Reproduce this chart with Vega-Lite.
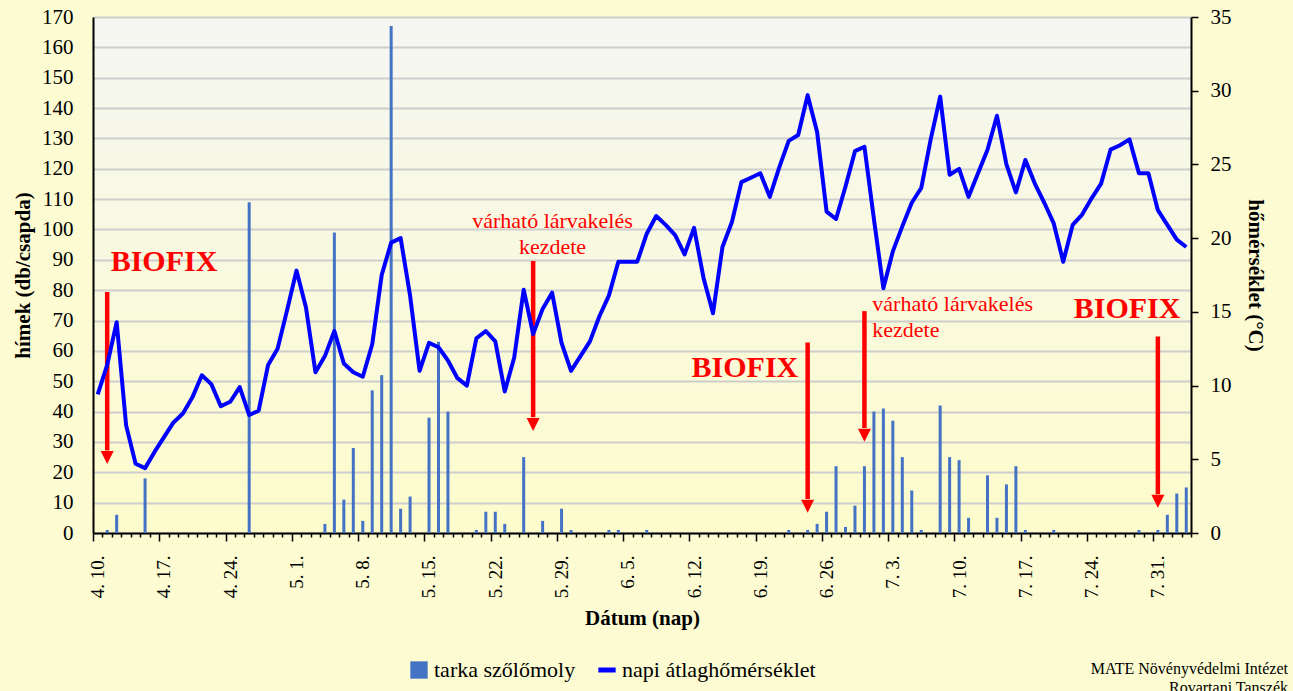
{
  "$schema": "https://vega.github.io/schema/vega-lite/v6.json",
  "width": 1098,
  "height": 516,
  "autosize": {"type": "none"},
  "padding": {"left": 93, "top": 17, "right": 102, "bottom": 158},
  "background": "#fcfbd2",
  "config": {
    "font": "Liberation Serif",
    "view": {"stroke": null, "fill": {"gradient": "linear", "x1": 0, "y1": 0, "x2": 0, "y2": 1, "stops": [{"offset": 0, "color": "#f5f6f2"}, {"offset": 1, "color": "#fdfccc"}]}}
  },
  "title": {
    "text": ["MATE Növényvédelmi Intézet", "Rovartani Tanszék"],
    "orient": "bottom", "anchor": "end", "frame": "group",
    "font": "Liberation Serif", "fontSize": 16, "fontWeight": "normal", "color": "black",
    "lineHeight": 19, "dx": 97, "offset": -20
  },
  "data": {"values": [
    {"d":"2023-04-10","n":0,"t":9.4},{"d":"2023-04-11","n":1,"t":11.4},{"d":"2023-04-12","n":6,"t":14.3},{"d":"2023-04-13","n":0,"t":7.3},
    {"d":"2023-04-14","n":0,"t":4.7},{"d":"2023-04-15","n":18,"t":4.4},{"d":"2023-04-16","n":0,"t":5.5},{"d":"2023-04-17","n":0,"t":6.5},
    {"d":"2023-04-18","n":0,"t":7.5},{"d":"2023-04-19","n":0,"t":8.1},{"d":"2023-04-20","n":0,"t":9.2},{"d":"2023-04-21","n":0,"t":10.7},
    {"d":"2023-04-22","n":0,"t":10.1},{"d":"2023-04-23","n":0,"t":8.6},{"d":"2023-04-24","n":0,"t":8.9},{"d":"2023-04-25","n":0,"t":9.9},
    {"d":"2023-04-26","n":109,"t":8.0},{"d":"2023-04-27","n":0,"t":8.3},{"d":"2023-04-28","n":0,"t":11.4},{"d":"2023-04-29","n":0,"t":12.5},
    {"d":"2023-04-30","n":0,"t":15.1},{"d":"2023-05-01","n":0,"t":17.8},{"d":"2023-05-02","n":0,"t":15.3},{"d":"2023-05-03","n":0,"t":10.9},
    {"d":"2023-05-04","n":3,"t":12.0},{"d":"2023-05-05","n":99,"t":13.7},{"d":"2023-05-06","n":11,"t":11.5},{"d":"2023-05-07","n":28,"t":10.9},
    {"d":"2023-05-08","n":4,"t":10.6},{"d":"2023-05-09","n":47,"t":12.8},{"d":"2023-05-10","n":52,"t":17.5},{"d":"2023-05-11","n":167,"t":19.7},
    {"d":"2023-05-12","n":8,"t":20.0},{"d":"2023-05-13","n":12,"t":16.1},{"d":"2023-05-14","n":0,"t":11.0},{"d":"2023-05-15","n":38,"t":12.9},
    {"d":"2023-05-16","n":63,"t":12.6},{"d":"2023-05-17","n":40,"t":11.7},{"d":"2023-05-18","n":0,"t":10.5},{"d":"2023-05-19","n":0,"t":10.0},
    {"d":"2023-05-20","n":1,"t":13.2},{"d":"2023-05-21","n":7,"t":13.7},{"d":"2023-05-22","n":7,"t":13.0},{"d":"2023-05-23","n":3,"t":9.6},
    {"d":"2023-05-24","n":0,"t":11.9},{"d":"2023-05-25","n":25,"t":16.5},{"d":"2023-05-26","n":0,"t":13.5},{"d":"2023-05-27","n":4,"t":15.2},
    {"d":"2023-05-28","n":0,"t":16.3},{"d":"2023-05-29","n":8,"t":12.9},{"d":"2023-05-30","n":1,"t":11.0},{"d":"2023-05-31","n":0,"t":12.0},
    {"d":"2023-06-01","n":0,"t":13.0},{"d":"2023-06-02","n":0,"t":14.7},{"d":"2023-06-03","n":1,"t":16.1},{"d":"2023-06-04","n":1,"t":18.4},
    {"d":"2023-06-05","n":0,"t":18.4},{"d":"2023-06-06","n":0,"t":18.4},{"d":"2023-06-07","n":1,"t":20.3},{"d":"2023-06-08","n":0,"t":21.5},
    {"d":"2023-06-09","n":0,"t":20.9},{"d":"2023-06-10","n":0,"t":20.2},{"d":"2023-06-11","n":0,"t":18.9},{"d":"2023-06-12","n":0,"t":20.7},
    {"d":"2023-06-13","n":0,"t":17.3},{"d":"2023-06-14","n":0,"t":14.9},{"d":"2023-06-15","n":0,"t":19.4},{"d":"2023-06-16","n":0,"t":21.1},
    {"d":"2023-06-17","n":0,"t":23.8},{"d":"2023-06-18","n":0,"t":24.1},{"d":"2023-06-19","n":0,"t":24.4},{"d":"2023-06-20","n":0,"t":22.8},
    {"d":"2023-06-21","n":0,"t":24.8},{"d":"2023-06-22","n":1,"t":26.6},{"d":"2023-06-23","n":0,"t":27.0},{"d":"2023-06-24","n":1,"t":29.7},
    {"d":"2023-06-25","n":3,"t":27.2},{"d":"2023-06-26","n":7,"t":21.8},{"d":"2023-06-27","n":22,"t":21.3},{"d":"2023-06-28","n":2,"t":23.5},
    {"d":"2023-06-29","n":9,"t":25.9},{"d":"2023-06-30","n":22,"t":26.2},{"d":"2023-07-01","n":40,"t":21.3},{"d":"2023-07-02","n":41,"t":16.6},
    {"d":"2023-07-03","n":37,"t":19.1},{"d":"2023-07-04","n":25,"t":20.8},{"d":"2023-07-05","n":14,"t":22.4},{"d":"2023-07-06","n":1,"t":23.4},
    {"d":"2023-07-07","n":0,"t":26.7},{"d":"2023-07-08","n":42,"t":29.6},{"d":"2023-07-09","n":25,"t":24.3},{"d":"2023-07-10","n":24,"t":24.7},
    {"d":"2023-07-11","n":5,"t":22.8},{"d":"2023-07-12","n":0,"t":24.4},{"d":"2023-07-13","n":19,"t":26.0},{"d":"2023-07-14","n":5,"t":28.3},
    {"d":"2023-07-15","n":16,"t":25.0},{"d":"2023-07-16","n":22,"t":23.1},{"d":"2023-07-17","n":1,"t":25.3},{"d":"2023-07-18","n":0,"t":23.7},
    {"d":"2023-07-19","n":0,"t":22.4},{"d":"2023-07-20","n":1,"t":21.0},{"d":"2023-07-21","n":0,"t":18.4},{"d":"2023-07-22","n":0,"t":20.9},
    {"d":"2023-07-23","n":0,"t":21.6},{"d":"2023-07-24","n":0,"t":22.7},{"d":"2023-07-25","n":0,"t":23.7},{"d":"2023-07-26","n":0,"t":26.0},
    {"d":"2023-07-27","n":0,"t":26.3},{"d":"2023-07-28","n":0,"t":26.7},{"d":"2023-07-29","n":1,"t":24.4},{"d":"2023-07-30","n":0,"t":24.4},
    {"d":"2023-07-31","n":1,"t":21.9},{"d":"2023-08-01","n":6,"t":20.9},{"d":"2023-08-02","n":13,"t":19.9},{"d":"2023-08-03","n":15,"t":19.4}
  ]},
  "layer": [
    {
      "mark": {"type": "rule", "strokeWidth": 3},
      "encoding": {
        "x": {
          "field": "d", "type": "temporal", "timeUnit": "utcyearmonthdate", "bandPosition": 0.5, "title": "Dátum (nap)",
          "scale": {"type": "utc", "domain": [{"year": 2023, "month": 4, "date": 10, "utc": true}, {"year": 2023, "month": 8, "date": 4, "utc": true}], "nice": false},
          "axis": {
            "title": "Dátum (nap)",
            "tickCount": {"interval": "day", "step": 1},
            "labelExpr": "(datum.value - utc(2023,3,10)) % 604800000 === 0 ? utcFormat(datum.value, '%-m. %-d.') : ''",
            "labelAngle": 270, "labelOffset": 4.7, "labelOverlap": false, "labelFlush": false, "labelBound": false,
            "labelFont": "Liberation Serif", "labelFontSize": 19, "labelColor": "black", "labelPadding": 14,
            "tickSize": {"condition": {"test": "(datum.value - utc(2023,3,10)) % 604800000 === 0", "value": 8}, "value": 4},
            "tickColor": "black", "tickWidth": 1.5,
            "domainColor": "black", "domainWidth": 2, "grid": false,
            "titleFont": "Liberation Serif", "titleFontSize": 21, "titleFontWeight": "bold", "titleColor": "black", "titlePadding": 10
          }
        },
        "y": {
          "field": "n", "type": "quantitative", "title": "hímek (db/csapda)",
          "scale": {"domain": [0, 170], "nice": false},
          "axis": {
            "orient": "left",
            "title": "hímek (db/csapda)",
            "values": [0,10,20,30,40,50,60,70,80,90,100,110,120,130,140,150,160,170],
            "labelOverlap": false, "labelFlush": false, "labelBound": false,
            "grid": true, "gridColor": "#cdcdcd", "gridWidth": 2,
            "ticks": false, "labelPadding": 20,
            "labelFont": "Liberation Serif", "labelFontSize": 21, "labelColor": "black",
            "domainColor": "black", "domainWidth": 2,
            "titleFont": "Liberation Serif", "titleFontSize": 21, "titleFontWeight": "bold", "titleColor": "black", "titlePadding": 8
          }
        },
        "y2": {"datum": 0},
        "color": {
          "datum": "tarka szőlőmoly", "type": "nominal",
          "scale": {"domain": ["tarka szőlőmoly", "napi átlaghőmérséklet"], "range": ["#4472c4", "#0000ff"]},
          "legend": {
            "title": null, "orient": "none", "direction": "horizontal", "legendX": 315, "legendY": 642,
            "labelFont": "Liberation Serif", "labelFontSize": 22, "labelColor": "black", "labelLimit": 500,
            "symbolSize": 300, "columnPadding": 12, "symbolStrokeWidth": 5,
            "encode": {"symbols": {"update": {
              "shape": {"signal": "datum.value === 'tarka szőlőmoly' ? 'square' : 'stroke'"},
              "fill": {"signal": "datum.value === 'tarka szőlőmoly' ? '#4472c4' : 'transparent'"},
              "stroke": {"signal": "datum.value === 'tarka szőlőmoly' ? '#4472c4' : '#0000ff'"},
              "strokeWidth": {"signal": "datum.value === 'tarka szőlőmoly' ? 0 : 5"}
            }}}
          }
        }
      }
    },
    {
      "data": {"values": [
        {"d": "2023-04-11", "top": 79.4, "tip": 22.7, "end": 27.2},
        {"d": "2023-05-26", "top": 89.6, "tip": 33.6, "end": 38.1},
        {"d": "2023-06-24", "top": 62.8, "tip": 6.7, "end": 11.2},
        {"d": "2023-06-30", "top": 73.1, "tip": 30.1, "end": 34.6},
        {"d": "2023-07-31", "top": 64.7, "tip": 8.3, "end": 12.8}
      ]},
      "mark": {"type": "rule", "color": "#ff0000", "strokeWidth": 4.5},
      "encoding": {
        "x": {"field": "d", "type": "temporal", "timeUnit": "utcyearmonthdate", "bandPosition": 0.5, "title": "Dátum (nap)"},
        "y": {"field": "top", "type": "quantitative", "scale": {"domain": [0, 170], "nice": false}, "axis": null},
        "y2": {"field": "end"}
      }
    },
    {
      "data": {"values": [
        {"d": "2023-04-11", "tip": 22.7},
        {"d": "2023-05-26", "tip": 33.6},
        {"d": "2023-06-24", "tip": 6.7},
        {"d": "2023-06-30", "tip": 30.1},
        {"d": "2023-07-31", "tip": 8.3}
      ]},
      "mark": {"type": "point", "shape": "M-1,-2L1,-2L0,0Z", "size": 169, "filled": true, "color": "#ff0000", "opacity": 1, "strokeWidth": 0},
      "encoding": {
        "x": {"field": "d", "type": "temporal", "timeUnit": "utcyearmonthdate", "bandPosition": 0.5, "title": "Dátum (nap)"},
        "y": {"field": "tip", "type": "quantitative", "scale": {"domain": [0, 170], "nice": false}, "axis": null}
      }
    },
    {
      "data": {"values": [
        {"x": "2023-04-17T12:00:00Z", "y": 86.3, "label": "BIOFIX"},
        {"x": "2023-06-17T21:00:00Z", "y": 51.4, "label": "BIOFIX"},
        {"x": "2023-07-28T06:00:00Z", "y": 70.8, "label": "BIOFIX"}
      ]},
      "mark": {"type": "text", "font": "Liberation Serif", "fontSize": 30, "fontWeight": "bold", "color": "#ff0000", "align": "center", "baseline": "alphabetic"},
      "encoding": {
        "x": {"field": "x", "type": "temporal", "title": "Dátum (nap)"},
        "y": {"field": "y", "type": "quantitative", "scale": {"domain": [0, 170], "nice": false}, "axis": null},
        "text": {"field": "label"}
      }
    },
    {
      "data": {"values": [
        {"x": "2023-05-28T13:00:00Z", "y": 100.5, "label": "várható lárvakelés"},
        {"x": "2023-05-28T13:00:00Z", "y": 91.9, "label": "kezdete"}
      ]},
      "mark": {"type": "text", "font": "Liberation Serif", "fontSize": 22, "color": "#ff0000", "align": "center", "baseline": "alphabetic"},
      "encoding": {
        "x": {"field": "x", "type": "temporal", "title": "Dátum (nap)"},
        "y": {"field": "y", "type": "quantitative", "scale": {"domain": [0, 170], "nice": false}, "axis": null},
        "text": {"field": "label"}
      }
    },
    {
      "data": {"values": [
        {"x": "2023-07-01T08:00:00Z", "y": 73.1, "label": "várható lárvakelés"},
        {"x": "2023-07-01T08:00:00Z", "y": 64.6, "label": "kezdete"}
      ]},
      "mark": {"type": "text", "font": "Liberation Serif", "fontSize": 22, "color": "#ff0000", "align": "left", "baseline": "alphabetic"},
      "encoding": {
        "x": {"field": "x", "type": "temporal", "title": "Dátum (nap)"},
        "y": {"field": "y", "type": "quantitative", "scale": {"domain": [0, 170], "nice": false}, "axis": null},
        "text": {"field": "label"}
      }
    },
    {
      "mark": {"type": "line", "strokeWidth": 4, "strokeJoin": "round"},
      "encoding": {
        "x": {"field": "d", "type": "temporal", "timeUnit": "utcyearmonthdate", "bandPosition": 0.5, "title": "Dátum (nap)"},
        "y": {
          "field": "t", "type": "quantitative", "title": "hőmérséklet (°C)",
          "scale": {"domain": [0, 35], "nice": false},
          "axis": {
            "orient": "right", "title": "hőmérséklet (°C)",
            "values": [0,5,10,15,20,25,30,35], "grid": false, "labelOverlap": false,
            "ticks": true, "tickSize": 7, "tickColor": "black", "tickWidth": 1.5, "labelPadding": 12,
            "labelFont": "Liberation Serif", "labelFontSize": 21, "labelColor": "black",
            "domainColor": "black", "domainWidth": 2,
            "titleFont": "Liberation Serif", "titleFontSize": 21, "titleFontWeight": "bold", "titleColor": "black", "titlePadding": 13
          }
        },
        "color": {"datum": "napi átlaghőmérséklet", "type": "nominal"}
      }
    }
  ],
  "resolve": {"scale": {"y": "independent"}}
}
